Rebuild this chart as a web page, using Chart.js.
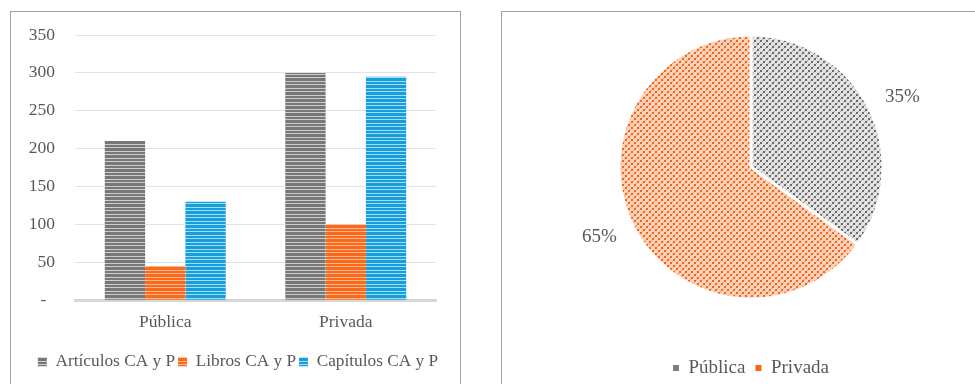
<!DOCTYPE html>
<html>
<head>
<meta charset="utf-8">
<script src="https://cdn.jsdelivr.net/npm/chart.js@4/dist/chart.umd.min.js"></script>
<style>
  html, body { margin: 0; padding: 0; background: #ffffff; overflow: hidden; }
  body { width: 975px; height: 384px; position: relative; }
  .panel { position: absolute; border: 1px solid #a3a3a3; background: #ffffff; }
  #barPanel { left: 10px; top: 11px; width: 449px; height: 390px; }
  #piePanel { left: 501px; top: 11px; width: 490px; height: 390px; }
  canvas { position: absolute; left: 0; top: 0; }
</style>
</head>
<body>
<div class="panel" id="barPanel"><canvas id="bars" width="448" height="380"></canvas></div>
<div class="panel" id="piePanel"><canvas id="pie" width="473" height="380"></canvas></div>
<script>
// Publications by sector
const categories = ['Pública', 'Privada'];
const articulos = [210, 300];
const libros = [45, 100];
const capitulos = [130, 295];
const seriesNames = ['Artículos CA y P', 'Libros CA y P', 'Capítulos CA y P'];

// Share by sector (%)
const pieLabels = ['Pública', 'Privada'];
const pieShares = [35, 65];

const zeroTick = '-';
const FONT = "'Liberation Serif', 'Times New Roman', serif";
const TEXT = '#595959';

// Horizontal-stripe fill used by the bars
function stripePattern(dark, light) {
  const c = document.createElement('canvas');
  c.width = 4; c.height = 7;
  const g = c.getContext('2d');
  g.fillStyle = dark; g.fillRect(0, 0, 4, 7);
  g.fillStyle = light; g.fillRect(0, 2, 4, 1); g.fillRect(0, 6, 4, 1);
  return g.createPattern(c, 'repeat');
}

// Dotted diagonal fill used by the pie slices
function dotPattern(dark, mid, light) {
  const c = document.createElement('canvas');
  c.width = 6; c.height = 6;
  const g = c.getContext('2d');
  g.fillStyle = light; g.fillRect(0, 0, 6, 6);
  g.fillStyle = mid;
  for (let x = 0; x < 6; x++) g.fillRect(x, 5 - x, 1, 1);
  g.fillStyle = dark;
  g.fillRect(0, 4, 2, 2);
  g.fillRect(3, 1, 2, 2);
  return g.createPattern(c, 'repeat');
}

const grayBar = stripePattern('#777777', '#cccccc');
const orangeBar = stripePattern('#fb6a1c', '#ffb78d');
const blueBar = stripePattern('#169fdb', '#a6dbf4');

new Chart(document.getElementById('bars'), {
  type: 'bar',
  data: {
    labels: categories,
    datasets: [
      { label: seriesNames[0], data: articulos, backgroundColor: grayBar },
      { label: seriesNames[1], data: libros, backgroundColor: orangeBar },
      { label: seriesNames[2], data: capitulos, backgroundColor: blueBar }
    ]
  },
  options: {
    responsive: false,
    animation: false,
    events: [],
    datasets: { bar: { categoryPercentage: 0.67, barPercentage: 1.0, borderWidth: 0 } },
    layout: { padding: { left: 6, top: 23, right: 0, bottom: 11.5 } },
    scales: {
      x: {
        grid: { display: false, drawTicks: false },
        border: { color: '#d6d6d6', width: 3 },
        ticks: { color: TEXT, font: { family: FONT, size: 17.5 }, padding: 12 },
        afterFit: s => { s.height = 50; }
      },
      y: {
        min: 0, max: 350,
        ticks: {
          stepSize: 50, color: TEXT, padding: 0,
          font: { family: FONT, size: 17.5 },
          callback: v => v === 0 ? zeroTick + '  ' : v
        },
        grid: { color: '#e2e2e2', lineWidth: 1, drawTicks: true, tickLength: 20, tickColor: 'rgba(0,0,0,0)' },
        border: { display: false },
        afterFit: s => { s.width = 58; }
      },
      // empty right-hand margin column
      yRight: {
        position: 'right',
        grid: { display: false, drawTicks: false },
        border: { display: false },
        ticks: { display: false },
        afterFit: s => { s.width = 23; }
      }
    },
    plugins: {
      tooltip: { enabled: false },
      legend: {
        position: 'bottom',
        labels: {
          color: TEXT, boxWidth: 9, boxHeight: 9, padding: 3,
          font: { family: FONT, size: 17.3 }
        }
      }
    }
  }
});

const grayDots = dotPattern('#6a6a6a', '#a2a2a2', '#e2e2e2');
const orangeDots = dotPattern('#f2661c', '#f89a6a', '#fcd2bb');
const pieKeyColors = ['#7f7f7f', '#f4661c'];

// Percentage labels placed just outside each slice
const outsideLabels = {
  id: 'outsideLabels',
  afterDatasetsDraw(chart) {
    const { ctx } = chart;
    const meta = chart.getDatasetMeta(0);
    ctx.save();
    ctx.font = '19px ' + FONT;
    ctx.fillStyle = TEXT;
    ctx.textAlign = 'center';
    ctx.textBaseline = 'middle';
    meta.data.forEach((arc, i) => {
      const p = arc.getProps(['x', 'y', 'startAngle', 'endAngle', 'outerRadius'], true);
      const mid = (p.startAngle + p.endAngle) / 2;
      const rx = p.outerRadius + 38;
      const ry = p.outerRadius + 22;
      ctx.fillText(chart.data.datasets[0].data[i] + '%', p.x + Math.cos(mid) * rx, p.y + Math.sin(mid) * ry);
    });
    ctx.restore();
  }
};

new Chart(document.getElementById('pie'), {
  type: 'pie',
  data: {
    labels: pieLabels,
    datasets: [{
      data: pieShares,
      backgroundColor: [grayDots, orangeDots],
      borderColor: '#ffffff',
      borderWidth: 3,
      clip: false
    }]
  },
  options: {
    responsive: false,
    animation: false,
    events: [],
    radius: 132,
    layout: { padding: { left: 25, right: 0, top: 18, bottom: 4.5 } },
    plugins: {
      tooltip: { enabled: false },
      legend: {
        position: 'bottom',
        title: { display: true, text: '', font: { size: 10, lineHeight: 1 }, padding: { top: 34.5, bottom: 0 } },
        labels: {
          color: TEXT, boxWidth: 6, boxHeight: 6, padding: 10,
          font: { family: FONT, size: 19 },
          generateLabels: chart => Chart.controllers.pie.overrides.plugins.legend.labels.generateLabels(chart)
            .map((item, i) => Object.assign(item, { fillStyle: pieKeyColors[i], strokeStyle: pieKeyColors[i], lineWidth: 0 }))
        }
      }
    }
  },
  plugins: [outsideLabels]
});
</script>
</body>
</html>
